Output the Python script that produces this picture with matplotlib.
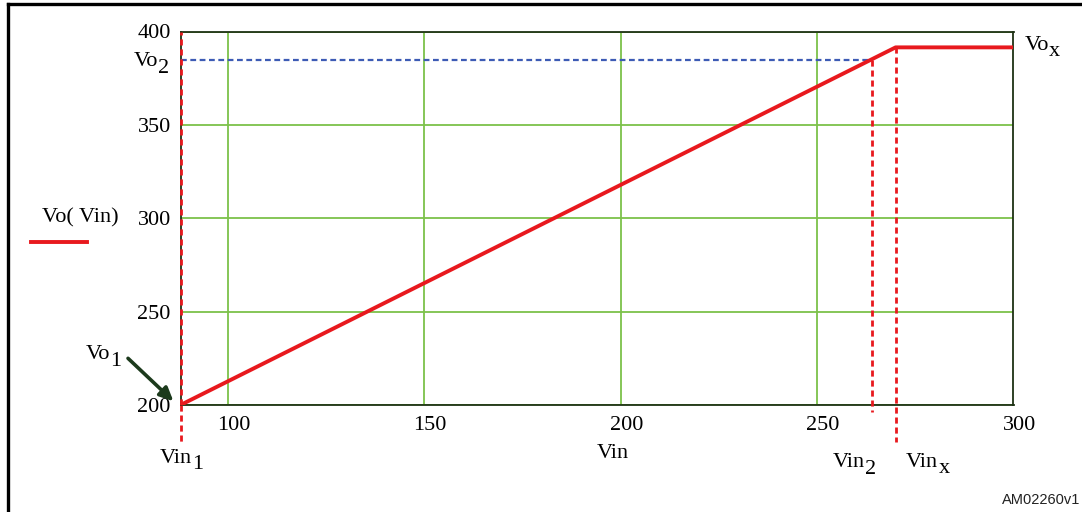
import matplotlib
matplotlib.use("Agg")
import matplotlib.pyplot as plt
from matplotlib.lines import Line2D
from matplotlib.transforms import ScaledTranslation, blended_transform_factory

# ---- data ----
vin = [88, 270, 300]
vo = [200, 391.5, 391.5]
vin1, vin2, vinx = 88, 264, 270
vo1, vo2, vox = 200, 385, 391.5
xticks = [100, 150, 200, 250, 300]
yticks = [200, 250, 300, 350, 400]

plt.rcParams['font.family'] = ['Liberation Serif', 'DejaVu Serif']

W, H = 1082, 512
fig = plt.figure(figsize=(W / 100, H / 100), dpi=100)
ax = fig.add_axes([180.5 / W, 1 - 405 / H, (1013.5 - 180.5) / W, (405 - 31.5) / H])

RED = '#e8191e'
GREEN = '#7cc24a'
SPINE = '#1e3214'
BLUE = '#3d5bb5'
FS = 16
LFS = 16

ax.set_xlim(88, 300)
ax.set_ylim(200, 400)
ax.set_xticks(xticks)
ax.set_yticks(yticks)
ax.tick_params(length=0, labelsize=FS, pad=7)
ax.tick_params(axis='x', pad=8)
for s in ax.spines.values():
    s.set_color(SPINE)
    s.set_linewidth(1.3)
ax.grid(True, color=GREEN, linewidth=1.3)
ax.set_axisbelow(True)

for lab in ax.get_xticklabels():
    lab.set_transform(lab.get_transform() + ScaledTranslation(6 / 100, 0, fig.dpi_scale_trans))

# main curve
ax.plot(vin, vo, color=RED, linewidth=2.8, solid_capstyle='butt', zorder=5)

DASH = (0, (2.2, 1.4))
ax.plot([vin1, vin1], [200, 400], color=RED, linestyle=DASH, linewidth=2.0, zorder=6, clip_on=False)
ax.plot([vin1, vin1], [200, 200 - 38 / 1.867], color=RED, linestyle=DASH, linewidth=2.0, clip_on=False)
ax.plot([88, vin2], [vo2, vo2], color=BLUE, linestyle=(0, (2.6, 1.6)), linewidth=1.6, zorder=4)
ax.plot([vin2, vin2], [vo2, 200 - 7 / 1.867], color=RED, linestyle=DASH, linewidth=2.0, clip_on=False, zorder=4)
ax.plot([vinx, vinx], [vox, 200 - 37 / 1.867], color=RED, linestyle=DASH, linewidth=2.0, clip_on=False, zorder=4)


def sub_label(x, y, main, sub, transform, ha='left', dy=-5):
    """Main text with a large, lowered subscript (MathCad style)."""
    t = ax.text(x, y, main, transform=transform, ha='left', va='center', fontsize=LFS)
    s = ax.annotate(sub, xy=(1, 0.5), xycoords=t, xytext=(0.3, dy), textcoords='offset points',
                    ha='left', va='center', fontsize=LFS, annotation_clip=False)
    if ha != 'left':
        fig.canvas.draw()
        r = fig.canvas.get_renderer()
        wt = t.get_window_extent(r).width + s.get_window_extent(r).width
        frac = 1.0 if ha == 'right' else 0.5
        t.set_transform(t.get_transform() + ScaledTranslation(-frac * wt / 100, 0, fig.dpi_scale_trans))
    return t


bx = blended_transform_factory(ax.transData, ax.transAxes)
by = blended_transform_factory(ax.transAxes, ax.transData)
sub_label(-0.014, vo2 - 1, 'Vo', '2', by, ha='right')
sub_label(1.013, vox + 1, 'Vo', 'x', by, ha='left', dy=-4)
sub_label(vin1 + 0.3, -0.142, 'Vin', '1', bx, ha='center')
sub_label(vin2 + 1.0, -0.155, 'Vin', '2', bx, ha='right')
sub_label(vinx + 2.6, -0.155, 'Vin', 'x', bx, ha='left', dy=-4)
ax.text(0.519, -0.13, 'Vin', transform=ax.transAxes, ha='center', va='center', fontsize=FS)

# Vo1 with arrow
sub_label(-0.114, 0.135, 'Vo', '1', ax.transAxes, ha='left')
ax.annotate('', xy=(vin1 - 1.8, vo1 + 2), xycoords='data',
            xytext=(-0.063, 0.125), textcoords='axes fraction', annotation_clip=False,
            arrowprops=dict(arrowstyle='-|>,head_length=0.8,head_width=0.38',
                            color='#1c3a1c', linewidth=2.6, shrinkA=0, shrinkB=0))

# legend-like label
fig.text(80 / W, 1 - 218 / H, 'Vo( Vin)', ha='center', va='center', fontsize=FS)
fig.add_artist(Line2D([31 / W, 87 / W], [1 - 242 / H, 1 - 242 / H], color=RED, linewidth=2.8,
                      transform=fig.transFigure))

fig.text(1080 / W, 1 - 500 / H, 'AM02260v1', ha='right', va='center', fontsize=10.5,
         family='Liberation Sans', color='#222222')

# outer frame (top and left edges)
fig.add_artist(Line2D([8 / W, 1], [1 - 4 / H, 1 - 4 / H], color='black', linewidth=2.4,
                      transform=fig.transFigure))
fig.add_artist(Line2D([8 / W, 8 / W], [0, 1 - 4 / H], color='black', linewidth=2.4,
                      transform=fig.transFigure))

fig.savefig('out.png', dpi=100)
